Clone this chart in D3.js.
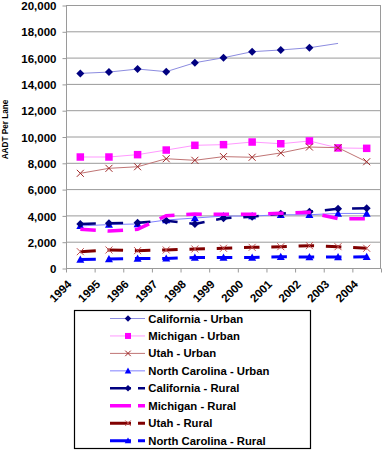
<!DOCTYPE html>
<html><head><meta charset="utf-8">
<script src="https://cdn.jsdelivr.net/npm/d3@7"></script>
<style>body{margin:0;background:#fff;} svg{display:block;font-family:"Liberation Sans",Arial,sans-serif;}</style>
</head><body><svg id="c" width="383" height="452"></svg>
<script>
const years = ["1994","1995","1996","1997","1998","1999","2000","2001","2002","2003","2004"];
const yTicks = [0,2000,4000,6000,8000,10000,12000,14000,16000,18000,20000];
const caUrban = [14800,14900,15130,14930,15610,15990,16450,16580,16750,17080,null];
const miUrban = [8440,8440,8620,8970,9330,9380,9580,9450,9660,9130,9100];
const utUrban = [7200,7580,7700,8310,8190,8470,8420,8750,9200,9150,8080];
const ncUrban = [3200,3300,3350,3650,3800,3950,3950,4050,4050,4150,4150];
const caRural = [3350,3400,3450,3600,3350,3780,3900,4130,4280,4500,4550];
const miRural = [2940,2810,2940,3980,4100,4080,4080,4160,4230,3750,3750];
const utRural = [1240,1370,1320,1370,1445,1500,1570,1620,1700,1620,1500];
const ncRural = [650,680,720,730,790,790,800,850,840,830,850];
const seriesNames = ["California - Urban","Michigan - Urban","Utah - Urban","North Carolina - Urban",
  "California - Rural","Michigan - Rural","Utah - Rural","North Carolina - Rural"];
const yTitle = "AADT Per Lane";

const styles = [
  {values: caUrban, line:"#8c8ce0", w:1, dash:null, marker:"diamond", mc:"#000080", ms:8, markedUntil:9},
  {values: miUrban, line:"#ff99ff", w:1, dash:null, marker:"square", mc:"#ff00ff", ms:7.5},
  {values: utUrban, line:"#c07575", w:1, dash:null, marker:"x", mc:"#a02828", ms:7},
  {values: ncUrban, line:"#8080ff", w:1, dash:null, marker:"triangle", mc:"#0000ff", ms:8},
  {values: caRural, line:"#000080", w:2.5, dash:"15.5,11.8", marker:"diamond", mc:"#000080", ms:8},
  {values: miRural, line:"#ff00ff", w:3.5, dash:"15.5,11.8", marker:null},
  {values: utRural, line:"#800000", w:3, dash:"15.5,11.8", marker:"x", mc:"#c05050", ms:7},
  {values: ncRural, line:"#0000ff", w:3, dash:"15.5,11.8", marker:"triangle", mc:"#0000ff", ms:8}
];

const svg = d3.select("#c");
const L=66, R=381, T=5, B=268;
const x = d3.scaleBand().domain(years).range([L,R]).padding(0);
const y = d3.scaleLinear().domain([0,20000]).range([B,T]);
const cx = d => x(d) + x.bandwidth()/2;

function markerPath(type, s){
  const h=s/2;
  if(type==="diamond") return `M0,${-h}L${h},0L0,${h}L${-h},0Z`;
  if(type==="square") return `M${-h},${-h}H${h}V${h}H${-h}Z`;
  if(type==="triangle") return `M0,${-h}L${h},${h*0.8}L${-h},${h*0.8}Z`;
  if(type==="x") return `M${-h},${-h}L${h},${h}M${h},${-h}L${-h},${h}`;
  return "";
}
function drawMarker(g, type, color, s, px, py){
  if(!type) return;
  const p = g.append("path").attr("d", markerPath(type,s)).attr("transform",`translate(${px},${py})`);
  if(type==="x") p.attr("fill","none").attr("stroke",color).attr("stroke-width",1);
  else p.attr("fill",color).attr("stroke","none");
}

// gridlines
svg.append("g").selectAll("line").data(yTicks).join("line")
  .attr("x1",L).attr("x2",R).attr("y1",d=>y(d)+0.5).attr("y2",d=>y(d)+0.5)
  .attr("stroke","#9a9a9a").attr("stroke-width",1);
// plot border left/right
svg.append("line").attr("x1",L+0.5).attr("x2",L+0.5).attr("y1",T).attr("y2",B+0.5).attr("stroke","#9a9a9a");
svg.append("line").attr("x1",R-0.5).attr("x2",R-0.5).attr("y1",T).attr("y2",B+0.5).attr("stroke","#9a9a9a");

// y axis
const yAxis = d3.axisLeft(y).tickValues(yTicks).tickSize(4).tickFormat(d3.format(","));
const ya = svg.append("g").attr("transform",`translate(${L+0.5},0.5)`).call(yAxis);
ya.select(".domain").remove();
ya.selectAll(".tick line").attr("stroke","#9a9a9a");
ya.selectAll(".tick text").attr("x",-10).attr("dy","0.36em").attr("font-size","11.5px").attr("font-weight","bold")
  .attr("fill","#000").attr("font-family","'Liberation Sans',Arial,sans-serif");

// x axis
const xb = d3.scaleLinear().domain([0,years.length]).range([L,R]);
const xa = svg.append("g").attr("transform",`translate(0.5,${B+0.5})`);
xa.selectAll("line").data(d3.range(years.length+1)).join("line")
  .attr("x1",d=>xb(d)).attr("x2",d=>xb(d)).attr("y1",0).attr("y2",4).attr("stroke","#9a9a9a");
svg.append("g").selectAll("text").data(years).join("text")
  .attr("transform",d=>`translate(${cx(d)-8},${285}) rotate(-45)`)
  .attr("text-anchor","end").attr("font-size","11.5px").attr("font-weight","bold").attr("fill","#000")
  .text(d=>d);

// y title
svg.append("text").attr("transform","translate(8,129.5) rotate(-90)").attr("text-anchor","middle")
  .attr("font-size","8.2px").attr("font-weight","bold").attr("fill","#000").text(yTitle);

// series
const lineGen = d3.line().defined(d=>d.v!=null).x(d=>cx(d.yr)).y(d=>y(d.v));
styles.forEach(st=>{
  const g = svg.append("g");
  const pts = years.map((yr,i)=>({yr, v: st.values[i], i}));
  const p = g.append("path").attr("d", lineGen(pts)).attr("fill","none")
    .attr("stroke", st.line).attr("stroke-width", st.w);
  if(st.dash) p.attr("stroke-dasharray", st.dash);
  pts.filter(d=>d.v!=null && (st.markedUntil==null || d.i<st.markedUntil))
    .forEach(d=>drawMarker(g, st.marker, st.mc, st.ms, cx(d.yr), y(d.v)));
});

// legend
const lg = svg.append("g");
lg.append("rect").attr("x",74.5).attr("y",310.5).attr("width",236).attr("height",138)
  .attr("fill","#fff").attr("stroke","#000").attr("stroke-width",1.2);
seriesNames.forEach((name,i)=>{
  const st = styles[i];
  const yy = 318.5 + i*17.45;
  const ln = lg.append("line").attr("x1",110).attr("x2",145).attr("y1",yy).attr("y2",yy)
    .attr("stroke",st.line).attr("stroke-width",st.w);
  if(st.dash) ln.attr("stroke-dasharray","21,7");
  drawMarker(lg, st.marker, st.mc, st.ms-1.5, 128, yy);
  lg.append("text").attr("x",148.3).attr("y",yy).attr("dy","0.36em")
    .attr("font-size","11.3px").attr("font-weight","bold").attr("fill","#000").text(name);
});
</script></body></html>
